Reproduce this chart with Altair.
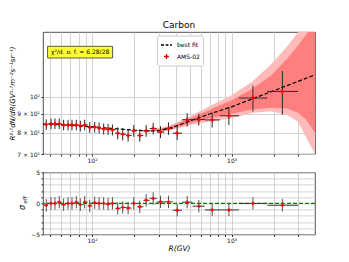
import altair as alt
import pandas as pd

# ---------------- data ----------------
R_center = [47.0, 50.8, 54.2, 58.2, 62.5, 67.3, 71.8, 77.1, 82.4, 88.5, 96.2, 104.4,
            112.3, 121.1, 130.3, 139.9, 152.7, 165.8, 181.3, 198.9, 219.7, 244.2,
            274.2, 309.3, 353.0, 407.7, 480.5, 582.0, 726.0, 956.0, 1422.0, 2312.0]
R_lo = [45.1, 48.5, 52.2, 56.1, 60.3, 64.8, 69.7, 74.9, 80.5, 86.5, 93.0, 100.0,
        108.0, 116.0, 125.0, 135.0, 147.0, 160.0, 175.0, 192.0, 211.0, 233.0,
        259.0, 291.0, 330.0, 379.0, 441.0, 525.0, 643.0, 822.0, 1130.0, 1800.0]
R_hi = [48.5, 52.2, 56.1, 60.3, 64.8, 69.7, 74.9, 80.5, 86.5, 93.0, 100.0, 108.0,
        116.0, 125.0, 135.0, 147.0, 160.0, 175.0, 192.0, 211.0, 233.0, 259.0,
        291.0, 330.0, 379.0, 441.0, 525.0, 643.0, 822.0, 1130.0, 1800.0, 3000.0]
flux = [84.1, 84.6, 84.6, 84.6, 83.9, 83.9, 83.9, 83.9, 83.4, 83.9, 82.6, 82.8,
        82.4, 81.9, 81.7, 81.4, 79.7, 79.2, 78.6, 80.9, 78.6, 80.9,
        82.1, 80.3, 82.1, 79.7, 86.7, 86.8, 86.6, 88.9, 99.3, 103.5]
flux_err = [2.8, 2.8, 2.8, 2.8, 2.8, 2.8, 2.8, 2.8, 2.8, 2.8, 2.8, 2.8,
            2.8, 2.8, 2.8, 2.8, 3.0, 3.0, 3.0, 3.0, 3.0, 3.0,
            3.0, 3.0, 3.2, 3.3, 3.6, 3.2, 4.0, 5.0, 8.0, 14.0]
resid = [-0.3, 0.0, 0.0, 0.2, -0.2, 0.0, 0.0, 0.2, -0.2, 0.2, -0.4, 0.1,
         0.0, 0.0, -0.1, 0.0, -0.8, -0.65, -0.75, 0.0, -0.55, 0.5,
         0.8, 0.25, 0.25, -1.1, 0.2, -0.45, -1.05, -1.05, 0.0, -0.3]
resid_err = [1.0, 1.0, 1.0, 1.0, 1.0, 1.0, 1.0, 1.0, 1.0, 1.0, 1.0, 1.0,
             1.0, 1.0, 1.0, 1.0, 1.0, 1.0, 1.0, 1.0, 1.0, 1.0,
             1.0, 1.0, 1.0, 1.0, 1.0, 1.0, 1.0, 1.0, 1.0, 1.0]

fit_R = [44.5, 60, 80, 100, 130, 170, 220, 260, 300, 350, 400, 500, 700, 1000,
         1500, 2000, 3000, 3960]
fit_val = [84.4, 84.0, 83.5, 83.0, 82.3, 81.6, 81.1, 80.8, 81.0, 82.0, 83.3, 86.0,
           90.0, 94.0, 99.7, 103.9, 110.2, 114.8]

band_R = [200, 250, 350, 500, 700, 1000, 1400, 1900, 2500, 3000, 3400, 3960]
inner_up = [81.0, 80.9, 82.7, 87.2, 92.5, 98.0, 105.0, 114.0, 127.0, 138.0, 147.0, 160.0]
inner_lo = [81.0, 80.6, 81.3, 84.7, 87.5, 90.0, 92.5, 93.5, 93.0, 90.5, 87.0, 80.0]
outer_up = [81.0, 81.1, 83.3, 88.5, 94.5, 101.0, 110.0, 122.0, 137.0, 150.0, 162.0, 180.0]
outer_lo = [81.0, 80.4, 80.8, 83.8, 85.8, 87.5, 90.5, 91.5, 89.5, 85.5, 78.0, 70.0]

x_ticks = [50, 60, 70, 80, 90, 100, 200, 300, 400, 500, 600, 700, 800, 900, 1000, 2000, 3000]
y_ticks_top = [70, 80, 90, 100]
y_ticks_bottom = [-5, -4, -3, -2, -1, 0, 1, 2, 3, 4, 5]

legend_names = ["best fit", "AMS-02"]
chi_text = "χ²/d. o. f. = 6.28/28"
title_text = "Carbon"

# ---------------- tables ----------------
pts = pd.DataFrame({"R": R_center, "lo": R_lo, "hi": R_hi, "flux": flux,
                    "err": flux_err, "res": resid, "rerr": resid_err})
pts["flo"] = pts["flux"] - pts["err"]
pts["fhi"] = pts["flux"] + pts["err"]
pts["rlo"] = pts["res"] - pts["rerr"]
pts["rhi"] = pts["res"] + pts["rerr"]
pts["series"] = "AMS-02"
fit_df = pd.DataFrame({"R": fit_R, "fit": fit_val})
band_df = pd.DataFrame({"R": band_R, "iu": inner_up, "il": inner_lo,
                        "ou": outer_up, "ol": outer_lo})

FONT = "DejaVu Sans"
W = 272
H_TOP = 122
H_BOT = 62

xscale = alt.Scale(type="log", domain=[44.5, 3960], nice=False)
x_label_expr = "datum.value == 100 ? '10²' : (datum.value == 1000 ? '10³' : '')"
x_axis_top = alt.Axis(values=x_ticks, labelExpr=x_label_expr, title=None,
                      labelOverlap=False, labelFlush=False)
x_axis_bot = alt.Axis(values=x_ticks, labelExpr=x_label_expr, title="R(GV)",
                      titleFontStyle="italic", titleFontSize=7.5, titleFontWeight="normal",
                      titlePadding=1, labelOverlap=False, labelFlush=False)

yscale_top = alt.Scale(type="log", domain=[70, 150], nice=False, zero=False)
y_axis_top = alt.Axis(values=y_ticks_top,
                      labelExpr="datum.value == 100 ? '10²' : (datum.value == 90 ? '9 × 10¹' : (datum.value == 80 ? '8 × 10¹' : '7 × 10¹'))",
                      title="R²·⁷dN/dR(GV¹·⁷m⁻²s⁻¹sr⁻¹)", titleFontStyle="italic",
                      titleFontSize=7, titleFontWeight="normal", titleAngle=270,
                      titleBaseline="bottom", titleX=-27.5, titleY=61,
                      labelOverlap=False, labelFlush=False)

yscale_bot = alt.Scale(domain=[-5, 5], nice=False)
y_axis_bot = alt.Axis(values=y_ticks_bottom,
                      labelExpr="datum.value == 5 ? '5' : (datum.value == 0 ? '0' : (datum.value == -5 ? '−5' : ''))",
                      title=None, labelOverlap=False, labelFlush=False)

X_top = alt.X("R:Q", scale=xscale, axis=x_axis_top)

# ---------------- top panel ----------------
outer = alt.Chart(band_df).mark_area(color="#ffbaba", clip=True).encode(
    x=X_top, y=alt.Y("ol:Q", scale=yscale_top, axis=y_axis_top), y2="ou:Q")
inner = alt.Chart(band_df).mark_area(color="#ff7f7f", clip=True).encode(
    x=X_top, y=alt.Y("il:Q", scale=yscale_top, axis=y_axis_top), y2="iu:Q")
fitline = alt.Chart(fit_df).mark_line(color="black", strokeDash=[4, 2], strokeWidth=1.2,
                                      clip=True).encode(
    x=X_top, y=alt.Y("fit:Q", scale=yscale_top, axis=y_axis_top))
xerr = alt.Chart(pts).mark_rule(color="#2a2a2a", strokeWidth=1).encode(
    x=alt.X("lo:Q", scale=xscale, axis=x_axis_top), x2="hi:Q",
    y=alt.Y("flux:Q", scale=yscale_top, axis=y_axis_top))
yerr = alt.Chart(pts).mark_rule(color="#2a2a2a", strokeWidth=1).encode(
    x=X_top, y=alt.Y("flo:Q", scale=yscale_top, axis=y_axis_top), y2="fhi:Q")

dash_path = "M-1,0H-0.45M-0.15,0H0.35M0.65,0H1"
plus_path = "M-0.45,0H0.45M0,-0.45V0.45"
leg = alt.Legend(orient="none", legendX=114, legendY=3.5, title=None,
                 fillColor="white", strokeColor="#cccccc", padding=3,
                 cornerRadius=2, labelFontSize=6, labelFont=FONT,
                 rowPadding=1.5, symbolSize=121, symbolStrokeWidth=1.3,
                 labelOffset=4)
points = alt.Chart(pts).mark_point(filled=False, strokeWidth=1.5, size=80, opacity=1).encode(
    x=X_top, y=alt.Y("flux:Q", scale=yscale_top, axis=y_axis_top),
    color=alt.Color("series:N", scale=alt.Scale(domain=legend_names, range=["black", "red"]),
                    legend=leg),
    shape=alt.Shape("series:N", scale=alt.Scale(domain=legend_names, range=[dash_path, plus_path]),
                    legend=leg))

chi_df = pd.DataFrame({"t": [chi_text]})
chi_box = alt.Chart(chi_df).mark_rect(fill="#ffff33", stroke="#333333", strokeWidth=0.8).encode(
    x=alt.value(4.6), x2=alt.value(69.6), y=alt.value(14.3), y2=alt.value(26))
chi_lbl = alt.Chart(chi_df).mark_text(font=FONT, fontSize=6, color="black").encode(
    x=alt.value(37.1), y=alt.value(20.3), text="t:N")

top = alt.layer(outer, inner, fitline, xerr, yerr, points, chi_box, chi_lbl).properties(
    width=W, height=H_TOP, title=alt.Title(title_text, fontSize=9, font=FONT,
                                           fontWeight="normal", offset=2))

# ---------------- bottom panel ----------------
X_bot = alt.X("R:Q", scale=xscale, axis=x_axis_bot)
zero_line = alt.Chart(pd.DataFrame({"z": [0]})).mark_rule(
    color="green", strokeDash=[4, 2], strokeWidth=1.4).encode(
    y=alt.Y("z:Q", scale=yscale_bot, axis=y_axis_bot))
rxerr = alt.Chart(pts).mark_rule(color="#3a3a3a", strokeWidth=1).encode(
    x=alt.X("lo:Q", scale=xscale, axis=x_axis_bot), x2="hi:Q",
    y=alt.Y("res:Q", scale=yscale_bot, axis=y_axis_bot))
ryerr = alt.Chart(pts).mark_rule(color="#555555", strokeWidth=1).encode(
    x=X_bot, y=alt.Y("rlo:Q", scale=yscale_bot, axis=y_axis_bot), y2="rhi:Q")
rpoints = alt.Chart(pts).mark_point(filled=True, shape="cross", size=12, color="red",
                                    opacity=1).encode(
    x=X_bot, y=alt.Y("res:Q", scale=yscale_bot, axis=y_axis_bot))
sig_df = pd.DataFrame({"s": ["σ"], "e": ["eff"]})
sig = alt.Chart(sig_df).mark_text(font=FONT, fontSize=8, fontStyle="italic", angle=270,
                                  color="black").encode(
    x=alt.value(-20), y=alt.value(35), text="s:N")
eff = alt.Chart(sig_df).mark_text(font=FONT, fontSize=5.5, fontStyle="italic", angle=270,
                                  color="black").encode(
    x=alt.value(-18.3), y=alt.value(27.5), text="e:N")

bottom = alt.layer(zero_line, rxerr, ryerr, rpoints, sig, eff).properties(width=W, height=H_BOT)

chart = alt.vconcat(top, bottom, spacing=18.4, bounds="flush").resolve_scale(
    x="independent", y="independent").resolve_legend(
    color="independent", shape="independent").properties(
    padding={"left": 0, "top": 12, "right": 5, "bottom": 0}).configure_view(
    stroke="#222222", strokeWidth=0.8).configure_axis(
    labelFont=FONT, titleFont=FONT, labelFontSize=6, labelColor="#111111",
    tickColor="#222222", tickSize=2, gridColor="#c8c8c8", gridWidth=0.8,
    domain=False, labelPadding=1.5, titleColor="black")

chart.save("out.html", embed_options={"renderer": "svg", "actions": False})
